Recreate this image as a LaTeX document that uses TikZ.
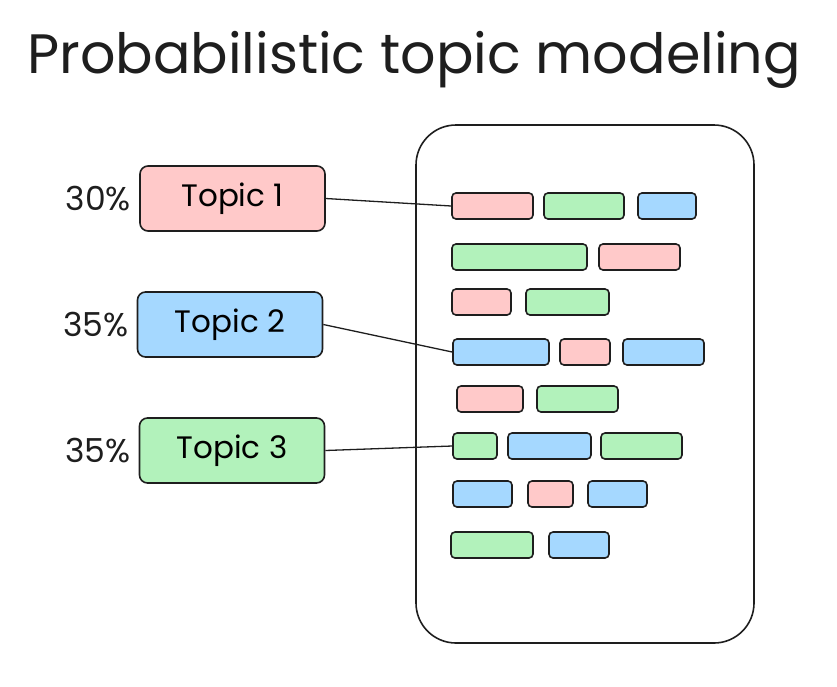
\documentclass[tikz,border=0pt]{standalone}
\usepackage{fontspec}
\setmainfont{Poppins}
\usetikzlibrary{positioning}
\definecolor{inkc}{HTML}{1E1E1E}
\definecolor{pinkc}{HTML}{FFC9C9}
\definecolor{greenc}{HTML}{B2F2BB}
\definecolor{bluec}{HTML}{A5D8FF}
\tikzset{
  topicbox/.style={draw=inkc, line width=1.6pt, rounded corners=8pt, minimum width=185pt, minimum height=65pt, inner sep=0pt, font=\fontsize{31}{34}\selectfont},
  percent/.style={inner sep=0pt, font=\fontsize{33}{36}\selectfont, text=inkc},
  wordbar/.style={draw=inkc, line width=1.6pt, rounded corners=4pt, minimum height=26pt, inner sep=0pt},
  link/.style={draw=inkc, line width=1.3pt}
}
\begin{document}
\begin{tikzpicture}[x=1pt, y=-1pt]
\useasboundingbox (0,0) rectangle (837,686);

% Title
\node[text=inkc, font=\fontsize{55.5}{60}\selectfont] (title) at (414,60) {Probabilistic topic modeling};

% Document
\draw[inkc, line width=1.6pt, rounded corners=40pt] (416,125) rectangle (754,643);

% Words
\foreach \n/\xa/\xb/\y/\c in {
  a1/452/533/206/pinkc, a2/544/624/206/greenc, a3/638/696/206/bluec,
  b1/452/587/257/greenc, b2/599/680/257/pinkc,
  c1/452/511/302/pinkc, c2/526/609/302/greenc,
  d1/453/549/352/bluec, d2/560/610/352/pinkc, d3/623/704/352/bluec,
  e1/457/523/399/pinkc, e2/537/618/399/greenc,
  f1/453/497/446/greenc, f2/508/591/446/bluec, f3/601/682/446/greenc,
  g1/453/512/494/bluec, g2/528/573/494/pinkc, g3/588/647/494/bluec,
  h1/451/533/545/greenc, h2/549/609/545/bluec}
  \node[wordbar, fill=\c, minimum width={(\xb-\xa)*1pt}] (\n) at ({(\xa+\xb)/2},\y) {};

% Topics
\node[topicbox, fill=pinkc] (t1) at (232.5,198.5) {Topic 1};
\node[topicbox, fill=bluec] (t2) at (230,324.5) {Topic 2};
\node[topicbox, fill=greenc] (t3) at (232,450.5) {Topic 3};

\node[percent, left=8pt of t1] (p1) {30\%};
\node[percent, left=8pt of t2] (p2) {35\%};
\node[percent, left=8pt of t3] (p3) {35\%};

% Links
\draw[link] (t1.east) -- (a1.west);
\draw[link] (t2.east) -- (d1.west);
\draw[link] (t3.east) -- (f1.west);
\end{tikzpicture}
\end{document}
